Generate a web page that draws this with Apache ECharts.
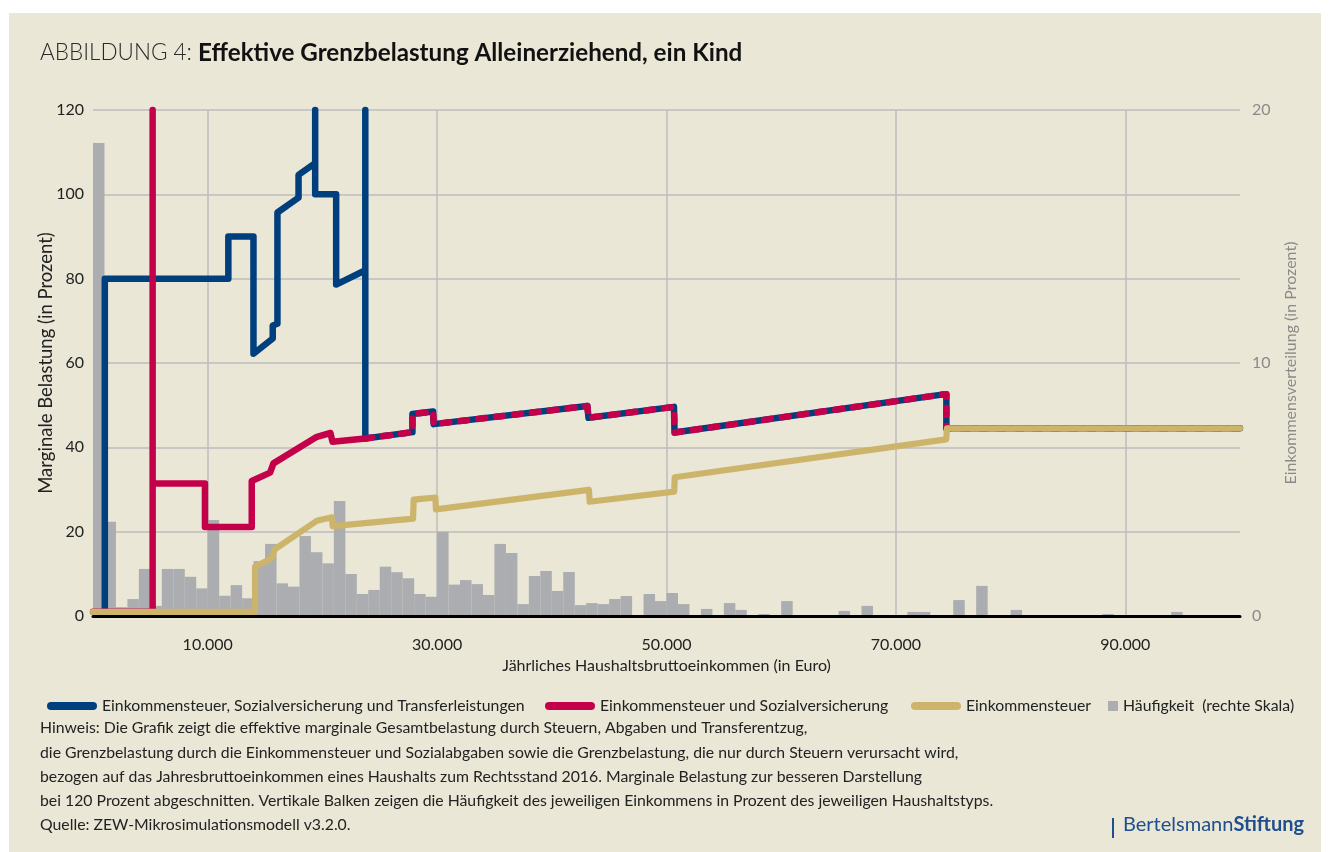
<!DOCTYPE html>
<html>
<head>
<meta charset="utf-8">
<script src="https://cdn.jsdelivr.net/npm/echarts@6.0.0/dist/echarts.min.js"></script>
<style>
  html, body { margin: 0; padding: 0; background: #fff; }
  #chart { width: 1338px; height: 852px; }
</style>
</head>
<body>
<div id="chart"></div>
<script>
// x-Achse: Jahreseinkommen in Euro, Beschriftung nur an den ungeraden Zehntausendern
const xTicks = [10000, 30000, 50000, 70000, 90000];
const binWidth = 1000;

// Häufigkeit je 1000-Euro-Klasse (rechte Skala, in Prozent)
const haeufigkeit = [
  18.7, 3.73, 0.35, 0.67, 1.86, 0.4, 1.86, 1.86, 1.55, 1.09,
  3.79, 0.8, 1.22, 0.7, 2.17, 2.85, 1.29, 1.16, 3.16, 2.52,
  2.08, 4.55, 1.66, 0.87, 1.03, 1.95, 1.73, 1.49, 0.87, 0.76,
  3.33, 1.24, 1.42, 1.26, 0.83, 2.85, 2.49, 0.47, 1.58, 1.78,
  0.99, 1.74, 0.43, 0.51, 0.47, 0.67, 0.79, 0, 0.87, 0.59,
  0.91, 0.47, 0, 0.28, 0, 0.51, 0.24, 0, 0.08, 0,
  0.59, 0, 0, 0, 0, 0.2, 0, 0.4, 0, 0,
  0, 0.16, 0.16, 0, 0, 0.63, 0, 1.19, 0, 0,
  0.24, 0, 0, 0, 0, 0, 0, 0, 0.08, 0,
  0, 0, 0, 0, 0.16, 0, 0, 0, 0, 0
];

// Einkommensteuer, Sozialversicherung und Transferleistungen
const gesamt = [
  [1030, 1], [1030, 80], [11800, 80], [11800, 90], [13990, 90], [13990, 62.2],
  [15670, 65.8], [15670, 68.9], [16080, 69.3], [16080, 95.7], [17920, 99.2],
  [17920, 104.6], [19370, 107.4], [19370, 120], [19370, 100], [21200, 100],
  [21200, 78.6], [23740, 82], [23740, 120], [23740, 42.1], [27850, 43.6],
  [27850, 47.9], [29650, 48.5], [29700, 45.5], [43100, 49.8], [43200, 47.0],
  [50650, 49.6], [50700, 43.5], [74000, 52.5], [74400, 52.6], [74400, 44.5],
  [100000, 44.5]
];

// Einkommensteuer und Sozialversicherung, eigener Verlauf bis 23.740 Euro
const steuerSozial = [
  [0, 1], [5200, 1], [5200, 120], [5200, 31.4], [9760, 31.4], [9760, 21.1],
  [13840, 21.1], [13840, 32], [15440, 34], [15730, 36.2], [19520, 42.5],
  [20700, 43.4], [20880, 41.3], [23740, 42.1]
];
// danach deckungsgleich mit der Gesamtbelastung (gestrichelt darüber)
const steuerSozialGleich = [
  [23740, 42.1], [27850, 43.6], [27850, 47.9], [29650, 48.5], [29700, 45.5],
  [43100, 49.8], [43200, 47.0], [50650, 49.6], [50700, 43.5], [74000, 52.5],
  [74400, 52.6], [74400, 44.5], [100000, 44.5]
];

// Einkommensteuer
const steuer = [
  [0, 1], [14130, 1], [14130, 11.7], [15590, 13.7], [15830, 15.8], [19520, 22.6],
  [20830, 23.4], [20900, 21.3], [27900, 23.1], [27960, 27.6], [29850, 28.1],
  [29900, 25.3], [43240, 29.9], [43300, 27.1], [50670, 29.5], [50720, 32.9],
  [74390, 41.9], [74450, 44.5], [100000, 44.5]
];

const nameGesamt = 'Einkommensteuer, Sozialversicherung und Transferleistungen';
const nameSozial = 'Einkommensteuer und Sozialversicherung';
const nameSteuer = 'Einkommensteuer';
const nameHaeufigkeit = 'Häufigkeit  (rechte Skala)';

const hinweis = [
  'Hinweis: Die Grafik zeigt die effektive marginale Gesamtbelastung durch Steuern, Abgaben und Transferentzug,',
  'die Grenzbelastung durch die Einkommensteuer und Sozialabgaben sowie die Grenzbelastung, die nur durch Steuern verursacht wird,',
  'bezogen auf das Jahresbruttoeinkommen eines Haushalts zum Rechtsstand 2016. Marginale Belastung zur besseren Darstellung',
  'bei 120 Prozent abgeschnitten. Vertikale Balken zeigen die Häufigkeit des jeweiligen Einkommens in Prozent des jeweiligen Haushaltstyps.',
  'Quelle: ZEW-Mikrosimulationsmodell v3.2.0.'
];

const BLUE = '#003f7d';
const RED = '#c5004b';
const TAN = '#cdb46b';
const GRAY = '#abadb0';
const FONT = 'Lato';
const capsule = 'path://M4,0H46A4,4 0 0 1 46,8H4A4,4 0 0 1 4,0Z';

const chart = echarts.init(document.getElementById('chart'));

function fmt(v) {
  return String(v).replace(/\B(?=(\d{3})+(?!\d))/g, '.');
}

const legendText = { color: '#222', fontFamily: FONT, fontSize: 15.8 };

chart.setOption({
  backgroundColor: '#ffffff',
  animation: false,
  textStyle: { fontFamily: FONT },
  graphic: [
    { type: 'rect', z: -10, shape: { x: 9, y: 13, width: 1312, height: 839 }, style: { fill: '#eae7d6' } },
    {
      type: 'text', left: 40, top: 41,
      style: {
        text: '{a|ABBILDUNG 4: }{b|Effektive Grenzbelastung Alleinerziehend, ein Kind}',
        rich: {
          a: { fontFamily: FONT, fontSize: 22.5, fontWeight: 300, fill: '#2a2a2a' },
          b: { fontFamily: FONT, fontSize: 24.2, fontWeight: 'bold', fill: '#111' }
        }
      }
    },
    {
      type: 'text', left: 40, top: 716,
      style: { text: hinweis.join('\n'), fontFamily: FONT, fontSize: 15.8, lineHeight: 24.3, fill: '#222' }
    },
    { type: 'rect', shape: { x: 1112, y: 818, width: 2, height: 20 }, style: { fill: '#1f4f8e' } },
    {
      type: 'text', left: 1123, top: 815,
      style: {
        text: '{a|Bertelsmann}{b|Stiftung}',
        rich: {
          a: { fontFamily: FONT, fontSize: 20, fill: '#1f4f8e' },
          b: { fontFamily: FONT, fontSize: 20, fontWeight: 'bold', fill: '#1f4f8e' }
        }
      }
    }
  ],
  legend: [
    { data: [nameGesamt], left: 42, top: 693, icon: capsule, itemWidth: 50, itemHeight: 8, textStyle: legendText },
    { data: [nameSozial], left: 540, top: 693, icon: capsule, itemWidth: 50, itemHeight: 8, textStyle: legendText },
    { data: [nameSteuer], left: 906, top: 693, icon: capsule, itemWidth: 50, itemHeight: 8, textStyle: legendText },
    { data: [nameHaeufigkeit], left: 1103, top: 693, icon: 'rect', itemWidth: 10, itemHeight: 10, textStyle: legendText }
  ],
  grid: { left: 93, right: 98, top: 110, bottom: 236 },
  xAxis: {
    type: 'value',
    min: 0,
    max: 100000,
    interval: 10000,
    z: 10,
    name: 'Jährliches Haushaltsbruttoeinkommen (in Euro)',
    nameLocation: 'middle',
    nameGap: 39,
    nameTextStyle: { color: '#222', fontSize: 16, fontFamily: FONT },
    axisLine: { lineStyle: { color: '#000', width: 3 } },
    axisTick: { show: false },
    splitLine: { show: false },
    axisLabel: {
      margin: 21, color: '#222', fontSize: 16, fontFamily: FONT,
      formatter: function (v) { return xTicks.indexOf(v) >= 0 ? fmt(v) : ''; }
    }
  },
  yAxis: [
    {
      type: 'value', min: 0, max: 120, interval: 20,
      name: 'Marginale Belastung (in Prozent)',
      nameLocation: 'middle', nameGap: 37, nameRotate: 90, nameMoveOverlap: false,
      nameTextStyle: { color: '#222', fontSize: 18.5, fontFamily: FONT },
      axisLine: { show: false }, axisTick: { show: false },
      axisLabel: { margin: 9, color: '#222', fontSize: 16, fontFamily: FONT },
      splitLine: { lineStyle: { color: '#bdbdbd', width: 1.5 } }
    },
    {
      type: 'value', min: 0, max: 20, interval: 10, position: 'right',
      name: 'Einkommensverteilung (in Prozent)',
      nameLocation: 'middle', nameGap: 43, nameRotate: 90,
      nameTextStyle: { color: '#8a8a8a', fontSize: 16, fontFamily: FONT },
      axisLine: { show: false }, axisTick: { show: false },
      axisLabel: { margin: 12, color: '#8a8a8a', fontSize: 16, fontFamily: FONT },
      splitLine: { show: false }
    }
  ],
  series: [
    {
      name: nameHaeufigkeit,
      type: 'bar',
      yAxisIndex: 1,
      z: 2,
      barWidth: 11.5,
      color: GRAY,
      itemStyle: { color: GRAY },
      data: haeufigkeit.map(function (v, i) { return [(i + 0.5) * binWidth, v]; }),
      markLine: {
        silent: true,
        z: 1,
        symbol: 'none',
        label: { show: false },
        lineStyle: { color: '#bdbdbd', width: 1.5, type: 'solid' },
        data: xTicks.map(function (v) { return { xAxis: v }; })
      }
    },
    {
      name: nameGesamt, type: 'line', z: 3, clip: false, symbol: 'none',
      color: BLUE,
      lineStyle: { color: BLUE, width: 6.5, cap: 'round', join: 'round' },
      data: gesamt
    },
    {
      name: nameSozial, type: 'line', z: 4, clip: false, symbol: 'none',
      color: RED,
      lineStyle: { color: RED, width: 6.5, cap: 'round', join: 'round' },
      data: steuerSozial
    },
    {
      name: 'sozial_gleich', type: 'line', z: 4, clip: false, symbol: 'none',
      color: RED,
      lineStyle: { color: RED, width: 6.5, type: [7, 11], cap: 'round', join: 'round' },
      data: steuerSozialGleich
    },
    {
      name: nameSteuer, type: 'line', z: 5, clip: false, symbol: 'none',
      color: TAN,
      lineStyle: { color: TAN, width: 6.2, cap: 'round', join: 'round' },
      data: steuer
    }
  ]
});
</script>
</body>
</html>
